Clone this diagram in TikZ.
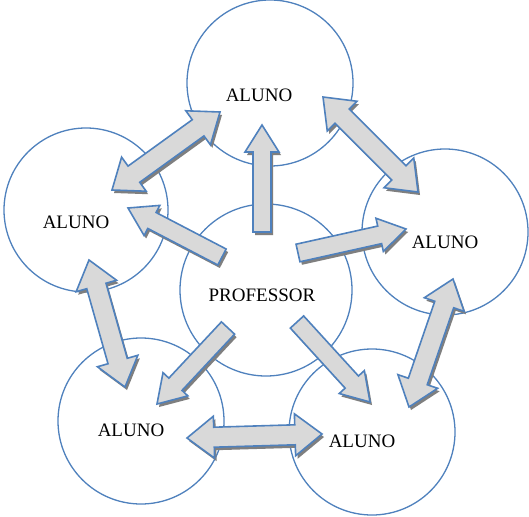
\documentclass[tikz,border=0pt]{standalone}
\usepackage{fontspec}
\setmainfont{Liberation Serif}
\usetikzlibrary{calc}
\definecolor{ringblue}{HTML}{4F81BD}
\definecolor{arrowfill}{HTML}{D9D9D9}
\definecolor{shadowgray}{HTML}{7F7F7F}

% single-headed block arrow from tail #1 to tip #2
\newcommand\singleshape[2]{%
  ($(#1)!9pt!90:(#2)$) --
  ($($(#2)!27pt!(#1)$)!9pt!90:(#2)$) --
  ($($(#2)!27pt!(#1)$)!17pt!90:(#2)$) --
  (#2) --
  ($($(#2)!27pt!(#1)$)!17pt!-90:(#2)$) --
  ($($(#2)!27pt!(#1)$)!9pt!-90:(#2)$) --
  ($(#1)!9pt!-90:(#2)$) -- cycle}
% double-headed block arrow between tips #1 and #2
\newcommand\doubleshape[2]{%
  (#1) --
  ($($(#1)!27pt!(#2)$)!21pt!90:(#2)$) --
  ($($(#1)!27pt!(#2)$)!10pt!90:(#2)$) --
  ($($(#2)!27pt!(#1)$)!10pt!90:(#2)$) --
  ($($(#2)!27pt!(#1)$)!21pt!90:(#2)$) --
  (#2) --
  ($($(#2)!27pt!(#1)$)!21pt!-90:(#2)$) --
  ($($(#2)!27pt!(#1)$)!10pt!-90:(#2)$) --
  ($($(#1)!27pt!(#2)$)!10pt!-90:(#2)$) --
  ($($(#1)!27pt!(#2)$)!21pt!-90:(#2)$) -- cycle}
\newcommand\singlearrow[2]{%
  \fill[shadowgray, transform canvas={shift={(2pt,-3pt)}}] \singleshape{#1}{#2};
  \draw[blockarrow] \singleshape{#1}{#2};}
\newcommand\doublearrow[2]{%
  \fill[shadowgray, transform canvas={shift={(2pt,-3pt)}}] \doubleshape{#1}{#2};
  \draw[blockarrow] \doubleshape{#1}{#2};}

\begin{document}
\begin{tikzpicture}[x=1pt, y=-1pt,
  ring/.style={circle, draw=ringblue, line width=1.3pt, fill=white, inner sep=0pt},
  word/.style={font=\fontsize{19}{22}\selectfont, inner sep=0pt},
  blockarrow/.style={draw=ringblue, fill=arrowfill, line width=1.6pt, line join=miter}]
\useasboundingbox (0,0) rectangle (529,516);

% circles
\node[ring, minimum size=166pt] (top)   at (270,83)  {};
\node[ring, minimum size=164pt] (left)  at (86,210)  {};
\node[ring, minimum size=166pt] (right) at (445,232) {};
\node[ring, minimum size=172pt] (prof)  at (266,290) {};
\node[ring, minimum size=166pt] (bl)    at (141,421) {};
\node[ring, minimum size=166pt] (br)    at (372,432) {};

% labels
\node[word] (ttop)   at (259,95)  {ALUNO};
\node[word] (tleft)  at (76,222)  {ALUNO};
\node[word] (tright) at (445,242) {ALUNO};
\node[word] (tprof)  at (262,295) {PROFESSOR};
\node[word] (tbl)    at (131,430) {ALUNO};
\node[word] (tbr)    at (362,441) {ALUNO};

% arrow ends
\coordinate (a1) at (112,190); \coordinate (b1) at (220,112);
\coordinate (a2) at (323,97);  \coordinate (b2) at (418,192);
\coordinate (a3) at (453,279); \coordinate (b3) at (409,407);
\coordinate (a4) at (187,438); \coordinate (b4) at (322,434);
\coordinate (a5) at (89,260);  \coordinate (b5) at (125,387);
\coordinate (s1) at (262,232); \coordinate (e1) at (262,125);
\coordinate (s2) at (222,257); \coordinate (e2) at (128,208);
\coordinate (s3) at (298,253); \coordinate (e3) at (406,229);
\coordinate (s4) at (228,328); \coordinate (e4) at (157,404);
\coordinate (s5) at (297,322); \coordinate (e5) at (370,402);

% student to student
\doublearrow{a1}{b1}
\doublearrow{a2}{b2}
\doublearrow{a3}{b3}
\doublearrow{a4}{b4}
\doublearrow{a5}{b5}
% teacher to students
\singlearrow{s1}{e1}
\singlearrow{s2}{e2}
\singlearrow{s3}{e3}
\singlearrow{s4}{e4}
\singlearrow{s5}{e5}
\end{tikzpicture}
\end{document}
